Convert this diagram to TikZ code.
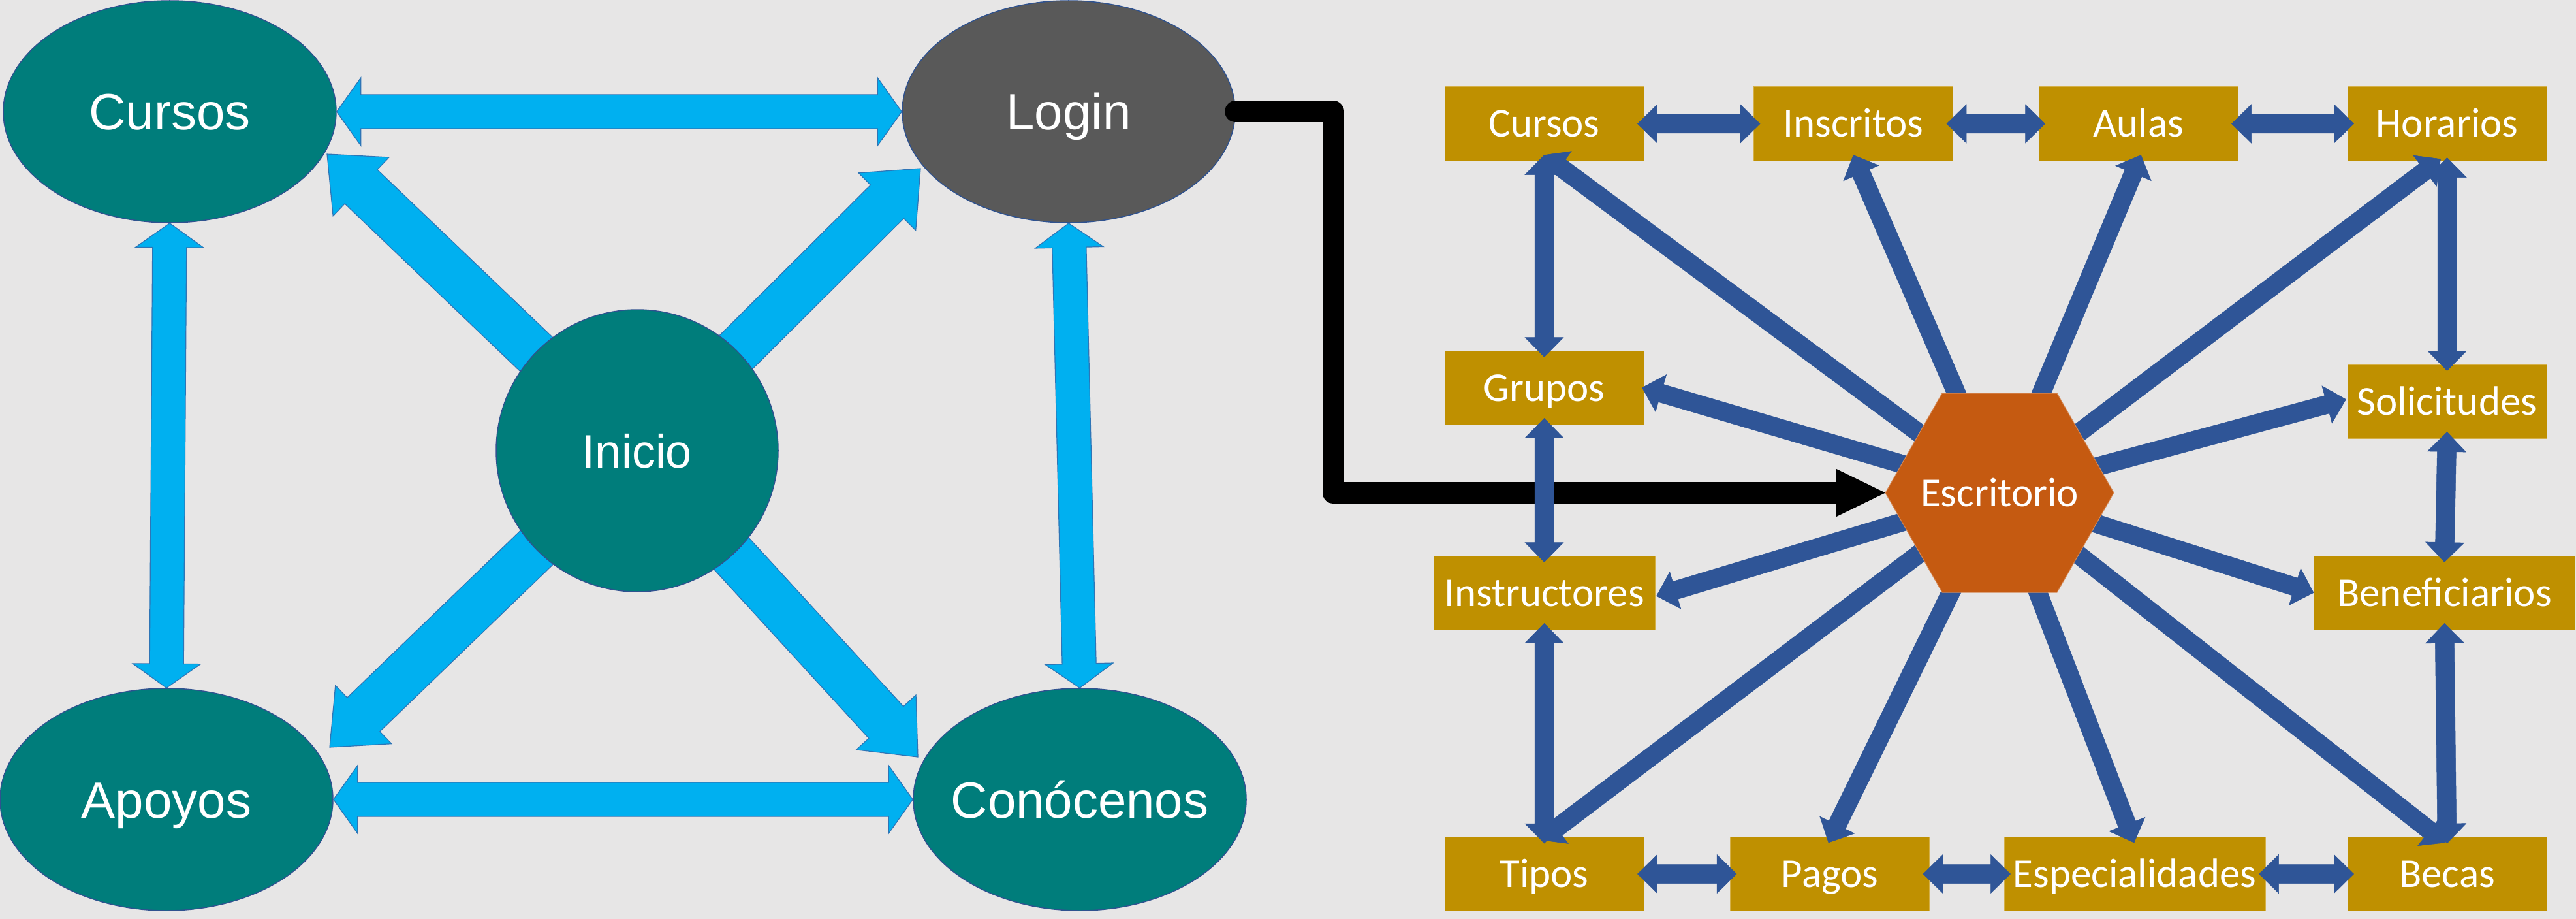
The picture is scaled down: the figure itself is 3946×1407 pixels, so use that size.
\documentclass[tikz,border=0pt]{standalone}
\usepackage{fontspec}
\setmainfont{Liberation Sans}
\newfontfamily\calib{Carlito}
\usetikzlibrary{calc,shapes.geometric}
\pgfdeclarelayer{fg}
\pgfsetlayers{main,fg}
\definecolor{bgc}{HTML}{E7E6E6}
\definecolor{tealc}{HTML}{007D7B}
\definecolor{loginc}{HTML}{595959}
\definecolor{lblue}{HTML}{00B0F0}
\definecolor{lblueo}{HTML}{2E75B6}
\definecolor{navyc}{HTML}{2F5597}
\definecolor{goldc}{HTML}{BF9000}
\definecolor{goldo}{HTML}{D4B04A}
\definecolor{orngc}{HTML}{C55A11}
\definecolor{ello}{HTML}{2F528F}
% block arrow with one head at the end
\newcommand\onearrow[6]{%
  \path (#2) coordinate (ars) (#3) coordinate (are);
  \path ($(are)!#6!(ars)$) coordinate (arh);
  \filldraw[#1] ($(ars)!#4!90:(are)$) -- ($(arh)!#4!90:(are)$) -- ($(arh)!#5!90:(are)$) -- (are)
    -- ($(arh)!#5!-90:(are)$) -- ($(arh)!#4!-90:(are)$) -- ($(ars)!#4!-90:(are)$) -- cycle;}
% block arrow with heads at both ends
\newcommand\twoarrow[6]{%
  \path (#2) coordinate (ars) (#3) coordinate (are);
  \path ($(are)!#6!(ars)$) coordinate (arh) ($(ars)!#6!(are)$) coordinate (arg);
  \filldraw[#1] (ars) -- ($(arg)!#5!90:(are)$) -- ($(arg)!#4!90:(are)$)
    -- ($(arh)!#4!90:(are)$) -- ($(arh)!#5!90:(are)$) -- (are)
    -- ($(arh)!#5!-90:(are)$) -- ($(arh)!#4!-90:(are)$)
    -- ($(arg)!#4!-90:(are)$) -- ($(arg)!#5!-90:(are)$) -- cycle;}
\begin{document}
\begin{tikzpicture}[x=1pt,y=-1pt,
  ltext/.style={text=white, font=\fontsize{78}{90}\selectfont, inner sep=0pt, text height=56pt, text depth=0pt},
  ell/.style={ellipse, fill=tealc, draw=ello, line width=1.5pt, minimum width=510pt, minimum height=340pt, inner sep=0pt, label={[ltext]center:#1}},
  box/.style={rectangle, fill=goldc, draw=goldo, line width=1pt, minimum width=305pt, minimum height=113pt, inner sep=0pt, text=white, font=\calib\fontsize{63}{75}\selectfont, text height=41pt, text depth=0pt},
  lb/.style={fill=lblue, draw=lblueo, line width=1.2pt},
  nv/.style={fill=navyc, draw=navyc, line width=0.5pt},
  blk/.style={draw=black, line width=33pt, line cap=round, line join=round},
]
\useasboundingbox (0,0) rectangle (3946,1407);
\fill[bgc] (0,0) rectangle (3946,1407);

% ---- left part ----
\node[ell=Cursos] (Cursos) at (260,171) {};
\node[ell=Login, fill=loginc] (Login) at (1637,171) {};
\node[ell=Apoyos] (Apoyos) at (255,1224) {};
\node[ell=Conócenos] (Conoc) at (1654,1224) {};
\begin{pgfonlayer}{fg}
\node[circle, fill=tealc, draw=ello, line width=1.5pt, minimum size=432pt, inner sep=0pt,
  text=white, font=\fontsize{72}{86}\selectfont, text height=52pt, text depth=0pt] (Inicio) at (976,690) {Inicio};
\coordinate (EscC) at (3063,754.5);
\filldraw[fill=orngc, draw=orngc!70!white, line width=1pt] ($(EscC)+(-175,0)$) -- ($(EscC)+(-88,-152.5)$) -- ($(EscC)+(88,-152.5)$)
  -- ($(EscC)+(175,0)$) -- ($(EscC)+(88,152.5)$) -- ($(EscC)+(-88,152.5)$) -- cycle;
\node[inner sep=0pt, text=white, font=\calib\fontsize{63}{75}\selectfont, text height=41pt, text depth=0pt] (Esc) at (EscC) {Escritorio};
\coordinate (EscW) at ($(EscC)+(-175,0)$);
\end{pgfonlayer}

\coordinate (tCu) at (501,236);
\coordinate (tLo) at (1410,258);
\coordinate (tAp) at (505,1144);
\coordinate (tCo) at (1406,1159);

\twoarrow{lb}{Cursos.east}{Login.west}{26pt}{52pt}{37pt}
\twoarrow{lb}{Cursos.south}{Apoyos.north}{26pt}{52pt}{37pt}
\twoarrow{lb}{Login.south}{Conoc.north}{26pt}{52pt}{37pt}
\twoarrow{lb}{Apoyos.east}{Conoc.west}{26pt}{52pt}{37pt}
\onearrow{lb}{Inicio.center}{tCu}{36pt}{62pt}{72pt}
\onearrow{lb}{Inicio.center}{tLo}{36pt}{62pt}{72pt}
\onearrow{lb}{Inicio.center}{tAp}{36pt}{62pt}{72pt}
\onearrow{lb}{Inicio.center}{tCo}{36pt}{62pt}{72pt}

% ---- right part ----
\node[box] (rCursos) at (2365.5,189.5) {Cursos};
\node[box] (rInscritos) at (2839,189.5) {Inscritos};
\node[box] (rAulas) at (3275.5,189.5) {Aulas};
\node[box] (rHorarios) at (3748.5,189.5) {Horarios};
\node[box] (rGrupos) at (2365.5,593.5) {Grupos};
\node[box] (rSolic) at (3748.5,614.5) {Solicitudes};
\node[box, minimum width=339pt] (rInstr) at (2365.5,907.5) {Instructores};
\node[box, minimum width=400pt] (rBenef) at (3744.5,907.5) {Beneficiarios};
\node[box] (rTipos) at (2365.5,1338) {Tipos};
\node[box] (rPagos) at (2803,1338) {Pagos};
\node[box, minimum width=400pt] (rEspec) at (3270,1338) {Especialidades};
\node[box] (rBecas) at (3748.5,1338) {Becas};

% black connector Login -> Escritorio
\draw[blk] (Login.east) -| ($(EscW)+(-846,0)$) -- ($(EscW)+(-75,0)$);
\fill[black] ($(EscW)+(-75,-36.5)$) -- (EscW) -- ($(EscW)+(-75,36.5)$) -- cycle;

% horizontal double arrows
\twoarrow{nv}{$(rCursos.east)+(-10,0)$}{$(rInscritos.west)+(10,0)$}{14.5pt}{29.5pt}{30pt}
\twoarrow{nv}{$(rInscritos.east)+(-10,0)$}{$(rAulas.west)+(10,0)$}{14.5pt}{29.5pt}{30pt}
\twoarrow{nv}{$(rAulas.east)+(-10,0)$}{$(rHorarios.west)+(10,0)$}{14.5pt}{29.5pt}{30pt}
\twoarrow{nv}{$(rTipos.east)+(-10,0)$}{$(rPagos.west)+(10,0)$}{14.5pt}{29.5pt}{30pt}
\twoarrow{nv}{$(rPagos.east)+(-10,0)$}{$(rEspec.west)+(10,0)$}{14.5pt}{29.5pt}{30pt}
\twoarrow{nv}{$(rEspec.east)+(-10,0)$}{$(rBecas.west)+(10,0)$}{14.5pt}{29.5pt}{30pt}
% vertical double arrows
\twoarrow{nv}{$(rCursos.south)+(0,-9)$}{$(rGrupos.north)+(0,10)$}{14.5pt}{29.5pt}{30pt}
\twoarrow{nv}{$(rGrupos.south)+(0,-10)$}{$(rInstr.north)+(0,10)$}{14.5pt}{29.5pt}{30pt}
\twoarrow{nv}{$(rInstr.south)+(0,-10)$}{$(rTipos.north)+(0,10)$}{14.5pt}{29.5pt}{30pt}
\twoarrow{nv}{$(rHorarios.south)+(0,-5)$}{$(rSolic.north)+(0,10)$}{14.5pt}{29.5pt}{30pt}
\twoarrow{nv}{$(rSolic.south)+(0,-10)$}{$(rBenef.north)+(0,10)$}{14.5pt}{29.5pt}{30pt}
\twoarrow{nv}{$(rBenef.south)+(0,-10)$}{$(rBecas.north)+(0,10)$}{14.5pt}{29.5pt}{30pt}
% radial arrows from Escritorio
\onearrow{nv}{Esc.center}{$(rCursos.south)+(0,-9)$}{14pt}{29.5pt}{30pt}
\onearrow{nv}{Esc.center}{$(rInscritos.south)+(0,-9)$}{14pt}{29.5pt}{30pt}
\onearrow{nv}{Esc.center}{$(rAulas.south)+(4,-9)$}{14pt}{29.5pt}{30pt}
\onearrow{nv}{Esc.center}{$(rHorarios.south)+(-10,-3)$}{14pt}{29.5pt}{30pt}
\onearrow{nv}{Esc.center}{$(rGrupos.east)+(-3,0)$}{14pt}{29.5pt}{30pt}
\onearrow{nv}{Esc.center}{$(rSolic.west)+(-2,-3)$}{14pt}{29.5pt}{30pt}
\onearrow{nv}{Esc.center}{$(rInstr.east)+(2,5)$}{14pt}{29.5pt}{30pt}
\onearrow{nv}{Esc.center}{rBenef.west}{14pt}{29.5pt}{30pt}
\onearrow{nv}{Esc.center}{$(rTipos.north)+(-5,5)$}{14pt}{29.5pt}{30pt}
\onearrow{nv}{Esc.center}{$(rPagos.north)+(-2,9)$}{14pt}{29.5pt}{30pt}
\onearrow{nv}{Esc.center}{$(rEspec.north)+(-1,9)$}{14pt}{29.5pt}{30pt}
\onearrow{nv}{Esc.center}{$(rBecas.north)+(-3,9)$}{14pt}{29.5pt}{30pt}
\end{tikzpicture}
\end{document}
